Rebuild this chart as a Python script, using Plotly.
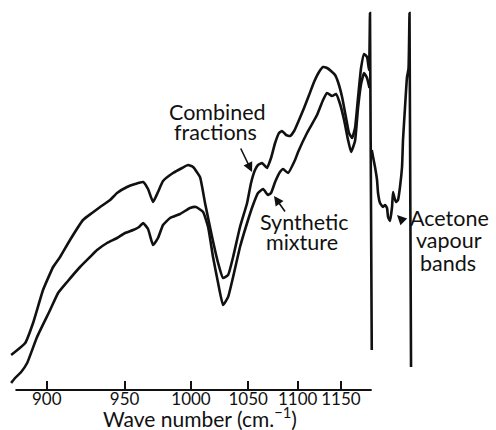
import numpy as np
import plotly.graph_objects as go

# ---------------- data ----------------
# wave number (cm-1) and relative transmission (arbitrary units)
combined_wn = [879.6, 887.5, 892.0, 897.8, 903.8, 908.0, 914.1, 922.3, 928.1, 933.4,
               940.1, 944.8, 951.7, 957.4, 963.2, 966.8, 970.5, 974.2, 978.0, 985.7,
               992.8, 997.6, 1001.7, 1007.4, 1011.6, 1017.6, 1022.8, 1027.1, 1031.6, 1036.1,
               1042.4, 1049.0, 1052.7, 1056.5, 1059.4, 1063.3, 1068.2, 1072.2, 1076.3, 1080.3,
               1083.4, 1087.6, 1091.8, 1096.1, 1101.4, 1106.9, 1112.5, 1118.1, 1123.8, 1128.5,
               1133.2, 1137.9, 1142.8, 1146.4, 1151.4, 1156.4, 1160.1, 1164.0, 1167.8, 1171.7,
               1175.7, 1179.7, 1183.7, 1186.4, 1187.7, 1190.1]
combined_t = [35, 47, 67, 100, 123, 133, 150, 170, 177, 183,
              190, 197, 203, 206, 208, 201, 188, 198, 209, 217,
              222, 225, 223, 213, 187, 153, 127, 112, 115, 133,
              163, 187, 207, 220, 225, 227, 222, 232, 247, 257,
              259, 255, 254, 259, 270, 282, 295, 308, 318, 323,
              322, 319, 315, 308, 293, 272, 257, 252, 262, 292,
              322, 336, 333, 320, 377, 40]

synthetic_wn = [879.6, 881.8, 885.2, 888.6, 894.3, 902.0, 906.8, 912.3, 920.4, 926.8,
                931.4, 938.0, 944.8, 950.4, 956.0, 960.3, 963.2, 966.8, 970.5, 974.2,
                978.0, 983.4, 991.2, 999.2, 1004.1, 1010.0, 1014.2, 1018.4, 1022.8, 1027.1,
                1031.6, 1036.1, 1042.4, 1049.0, 1054.6, 1059.4, 1064.3, 1069.2, 1072.2, 1076.3,
                1081.3, 1084.5, 1089.7, 1097.1, 1100.4, 1110.2, 1121.5, 1128.5, 1133.2, 1139.1,
                1144.0, 1148.9, 1153.9, 1158.9, 1162.7, 1167.8, 1171.7, 1175.7, 1179.7, 1183.7,
                1187.0]
synthetic_t = [7, 12, 18, 27, 53, 80, 97, 108, 123, 133,
               140, 147, 152, 157, 160, 163, 167, 161, 145, 152,
               165, 172, 176, 182, 183, 178, 163, 133, 107, 85,
               93, 113, 143, 167, 185, 197, 201, 195, 197, 208,
               218, 221, 217, 230, 238, 257, 275, 290, 297, 294,
               296, 286, 270, 250, 238, 249, 282, 306, 317, 312,
               302]

acetone_wn = [1190.1, 1191.9, 1194.6, 1197.4, 1198.8, 1201.6, 1205.9, 1208.8, 1211.6, 1213.1,
              1215.9, 1218.9, 1220.4, 1222.6, 1224.9, 1227.8, 1230.8, 1233.9, 1235.4, 1238.5,
              1241.6, 1243.9, 1245.5, 1247.9]
acetone_t = [240, 233, 223, 210, 197, 187, 183, 185, 182, 173,
             169, 183, 198, 192, 188, 190, 203, 223, 250, 283,
             313, 321, 377, 23]

tick_wn = [900, 950, 1000, 1050, 1100, 1150]
tick_labels = ["900", "950", "1000", "1050", "1100", "1150"]


# the instrument chart is (nearly) linear in 1/wavenumber^2
def scale(wn):
    return 1e6 / np.asarray(wn, dtype=float) ** 2


FONT = "Lato"
INK = "#111111"

fig = go.Figure()
for wn, t in [(combined_wn, combined_t), (synthetic_wn, synthetic_t), (acetone_wn, acetone_t)]:
    fig.add_trace(go.Scatter(x=scale(wn), y=t, mode="lines",
                             line=dict(color=INK, width=2.6, shape="spline", smoothing=0.4),
                             hoverinfo="skip", showlegend=False))

fig.update_layout(
    width=496, height=430,
    margin=dict(l=0, r=0, t=0, b=40),
    paper_bgcolor="white", plot_bgcolor="white",
    font=dict(family=FONT, color=INK),
    xaxis=dict(range=[float(scale(873.5)), float(scale(1408.6))],
               tickvals=list(scale(tick_wn)), ticktext=tick_labels,
               ticks="inside", ticklen=9, tickwidth=2, tickcolor=INK,
               ticklabelstandoff=-3,
               showgrid=False, zeroline=False, showline=False,
               tickfont=dict(family=FONT, size=17, color=INK)),
    yaxis=dict(range=[0, 390], visible=False),
)

# axis baseline (only under the calibrated part)
fig.add_shape(type="line", xref="x", yref="paper",
              x0=float(scale(882)), x1=float(scale(1190)), y0=0, y1=0,
              line=dict(color=INK, width=2))

# axis title
fig.add_annotation(text="Wave number (cm.<sup>−1</sup>)", xref="paper", yref="paper",
                   x=200 / 496, y=(390 - 417) / 390, xanchor="center", yanchor="middle",
                   showarrow=False, borderpad=0,
                   font=dict(size=21, family=FONT, color=INK))

# labels
def label(text, px, py, size=21.5):
    fig.add_annotation(text=text, xref="paper", yref="paper",
                       x=px / 496, y=(390 - py) / 390, xanchor="center", yanchor="middle",
                       showarrow=False, borderpad=0,
                       font=dict(size=size, family=FONT, color=INK))

label("Combined", 217, 112)
label("fractions", 215, 132)
label("Synthetic", 304, 222)
label("mixture", 302, 242)
label("Acetone", 449, 218)
label("vapour", 449, 240)
label("bands", 448, 263)

# arrows (tip -> curve, tail near label)
def arrow(tip_wn, tip_t, tail_wn, tail_t):
    fig.add_annotation(x=float(scale(tip_wn)), y=tip_t, ax=float(scale(tail_wn)), ay=tail_t,
                       xref="x", yref="y", axref="x", ayref="y", text="",
                       showarrow=True, arrowhead=2, arrowsize=1.2, arrowwidth=1.6,
                       arrowcolor=INK)

arrow(1053.7, 218, 1042.4, 243)
arrow(1075.2, 194, 1087.6, 177)
arrow(1226.3, 175, 1238.5, 167)

fig.write_html("out.html",
               config={"displayModeBar": False, "staticPlot": True},
               post_script="document.body.style.margin='0';document.body.style.overflow='hidden';")
